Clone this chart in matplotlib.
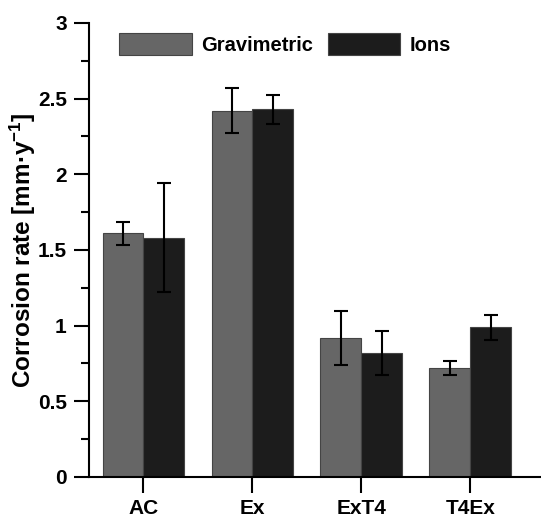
import matplotlib
matplotlib.use("Agg")
import matplotlib.pyplot as plt
import numpy as np
from matplotlib.ticker import MultipleLocator

categories = ["AC", "Ex", "ExT4", "T4Ex"]
grav = [1.61, 2.42, 0.92, 0.72]
grav_err = [0.075, 0.15, 0.18, 0.048]
ions = [1.58, 2.43, 0.82, 0.99]
ions_err = [0.36, 0.095, 0.143, 0.082]
series_names = ["Gravimetric", "Ions"]
yticks = [0, 0.5, 1, 1.5, 2, 2.5, 3]
ytick_labels = ["0", "0.5", "1", "1.5", "2", "2.5", "3"]

plt.rcParams["font.family"] = ["Liberation Sans", "DejaVu Sans"]
plt.rcParams["font.weight"] = "bold"
plt.rcParams["mathtext.fontset"] = "custom"
plt.rcParams["mathtext.rm"] = "Liberation Sans:bold"
plt.rcParams["mathtext.bf"] = "Liberation Sans:bold"
plt.rcParams["mathtext.it"] = "Liberation Sans:bold"

fig = plt.figure(figsize=(5.41, 5.20), dpi=100)
ax = fig.add_axes([0.1645, 0.0827, 0.8355, 0.8731])

x = np.arange(len(categories))
w = 0.375
ekw = dict(elinewidth=1.5, capthick=1.5, ecolor="black")
ax.bar(x - w / 2, grav, w, yerr=grav_err, color="#666666", edgecolor="#444444",
       linewidth=0.8, capsize=5, error_kw=ekw, label=series_names[0])
ax.bar(x + w / 2, ions, w, yerr=ions_err, color="#1c1c1c", edgecolor="#444444",
       linewidth=0.8, capsize=5, error_kw=ekw, label=series_names[1])

ax.set_xlim(-0.5, 3.65)
ax.set_ylim(0, 3)
ax.set_xticks(x)
ax.set_xticklabels(categories, fontsize=15, fontweight="bold")
ax.set_yticks(yticks)
ax.set_yticklabels(ytick_labels, fontsize=15, fontweight="bold")
ax.yaxis.set_minor_locator(MultipleLocator(0.25))

for s in ["top", "right"]:
    ax.spines[s].set_visible(False)
for s in ["left", "bottom"]:
    ax.spines[s].set_linewidth(1.5)

ax.tick_params(axis="y", which="major", direction="out", length=11, width=1.5, pad=5)
ax.tick_params(axis="y", which="minor", direction="out", length=6, width=1.5)
ax.tick_params(axis="x", which="major", direction="out", length=11.5, width=1.5, pad=4)

ax.set_ylabel("Corrosion rate [mm·y$^{-1}$]", fontsize=17.5, fontweight="bold", labelpad=0)

leg = ax.legend(loc="upper center", bbox_to_anchor=(0.434, 1.0), ncol=2, frameon=False,
                fontsize=14.5, handlelength=3.6, handleheight=1.3, handletextpad=0.45,
                columnspacing=0.75, borderaxespad=0.1)
for t in leg.get_texts():
    t.set_fontweight("bold")

fig.savefig("out.png", dpi=100)
